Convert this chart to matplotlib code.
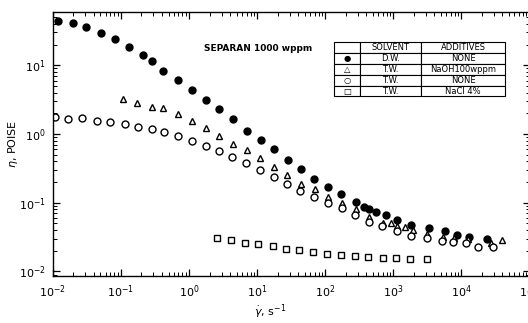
import numpy as np
import matplotlib.pyplot as plt

# D.W., no additive (filled circles)
dw_rate = [0.0118, 0.0196, 0.031, 0.051, 0.082, 0.13, 0.21, 0.29, 0.42, 0.69, 1.1, 1.8, 2.8, 4.4, 7.1,
           11.5, 17.8, 28.6, 44, 69, 110, 172, 285, 373, 445, 562, 790, 1150, 1830, 3380, 5800,
           8500, 13100, 24000]
dw_eta = [44, 41, 36, 29.5, 24, 18.5, 14, 11.6, 8.3, 6.1, 4.4, 3.1, 2.3, 1.65, 1.1,
          0.82, 0.60, 0.42, 0.31, 0.22, 0.17, 0.134, 0.102, 0.087, 0.081, 0.073, 0.066, 0.056, 0.047, 0.043, 0.039,
          0.034, 0.032, 0.030]

# T.W. + NaOH 100 wppm (open triangles)
naoh_rate = [0.107, 0.172, 0.286, 0.415, 0.69, 1.1, 1.78, 2.8, 4.4, 7.1, 11, 17.8, 27.6, 44, 71,
             110, 178, 286, 445, 710, 910, 1150, 1500, 1960, 3160, 5430, 7900, 12300, 26700, 40000]
naoh_eta = [3.2, 2.8, 2.5, 2.4, 1.95, 1.55, 1.22, 0.94, 0.71, 0.58, 0.45, 0.33, 0.25, 0.19, 0.16,
            0.121, 0.099, 0.081, 0.062, 0.051, 0.051, 0.046, 0.044, 0.040, 0.035, 0.032, 0.031, 0.030, 0.026, 0.029]

# T.W., no additive (open circles)
tw_rate = [0.0107, 0.0166, 0.027, 0.044, 0.069, 0.114, 0.178, 0.286, 0.43, 0.69, 1.1, 1.78, 2.8, 4.3, 6.9,
           11, 17.8, 27.6, 43, 69, 110, 178, 276, 445, 690, 1150, 1830, 3160, 5100, 7400, 11500, 17300, 28600]
tw_eta = [1.77, 1.65, 1.71, 1.55, 1.5, 1.4, 1.26, 1.18, 1.07, 0.94, 0.79, 0.67, 0.57, 0.46, 0.38,
          0.30, 0.24, 0.187, 0.148, 0.121, 0.099, 0.084, 0.066, 0.052, 0.046, 0.039, 0.033, 0.031, 0.028, 0.027, 0.026, 0.023, 0.023]

# T.W. + NaCl 4% (open squares)
nacl_rate = [2.6, 4.1, 6.7, 10.3, 17.2, 26.8, 41.4, 66, 107, 172, 276, 430, 710, 1100, 1780, 3160]
nacl_eta = [0.0306, 0.0286, 0.0259, 0.025, 0.0234, 0.0212, 0.0205, 0.019, 0.0178, 0.0174, 0.0168, 0.0162,
            0.0157, 0.0157, 0.0152, 0.0152]

table_rows = [['', 'SOLVENT', 'ADDITIVES'],
              ['●', 'D.W.', 'NONE'],
              ['△', 'T.W.', 'NaOH100wppm'],
              ['○', 'T.W.', 'NONE'],
              ['□', 'T.W.', 'NaCl 4%']]

fig = plt.figure(figsize=(5.28, 3.23), dpi=100)
ax = fig.add_axes([0.100, 0.1455, 0.903, 0.8175])

ms = 5
ax.plot(dw_rate, dw_eta, 'o', color='black', ms=ms, ls='none')
ax.plot(naoh_rate, naoh_eta, '^', mfc='white', mec='black', mew=1.0, ms=ms, ls='none')
ax.plot(tw_rate, tw_eta, 'o', mfc='white', mec='black', mew=1.0, ms=ms, ls='none')
ax.plot(nacl_rate, nacl_eta, 's', mfc='white', mec='black', mew=1.0, ms=ms, ls='none')

ax.set_xscale('log')
ax.set_yscale('log')
ax.set_xlim(1e-2, 1e5)
ax.set_ylim(0.00857, 59.7)
ax.set_xticks([1e-2, 1e-1, 1e0, 1e1, 1e2, 1e3, 1e4, 1e5])
ax.set_yticks([1e-2, 1e-1, 1e0, 1e1])
ax.tick_params(which='both', direction='in', top=True, right=True, labelsize=8, pad=5)
ax.tick_params(which='major', length=5, width=0.9)
ax.tick_params(which='minor', length=3, width=0.7)
for s in ax.spines.values():
    s.set_linewidth(1.0)

ax.set_xlabel(r'$\dot{\gamma}$, s$^{-1}$', fontsize=8)
ax.set_ylabel(r'$\eta$, POISE', fontsize=8)
ax.xaxis.set_label_coords(0.455, -0.10)
ax.yaxis.set_label_coords(-0.068, 0.5)

ax.text(0.317, 0.862, 'SEPARAN 1000 wppm', transform=ax.transAxes, fontsize=6.5,
        fontweight='bold', va='center', ha='left')

tbl = ax.table(cellText=table_rows, cellLoc='center',
               bbox=[0.590, 0.680, 0.358, 0.206], colWidths=[0.15, 0.36, 0.49])
tbl.auto_set_font_size(False)
tbl.set_fontsize(6)
for (r, c), cell in tbl.get_celld().items():
    cell.set_linewidth(0.8)
    cell.set_edgecolor('black')
    cell.set_facecolor('white')

fig.savefig('out.png', dpi=100)
